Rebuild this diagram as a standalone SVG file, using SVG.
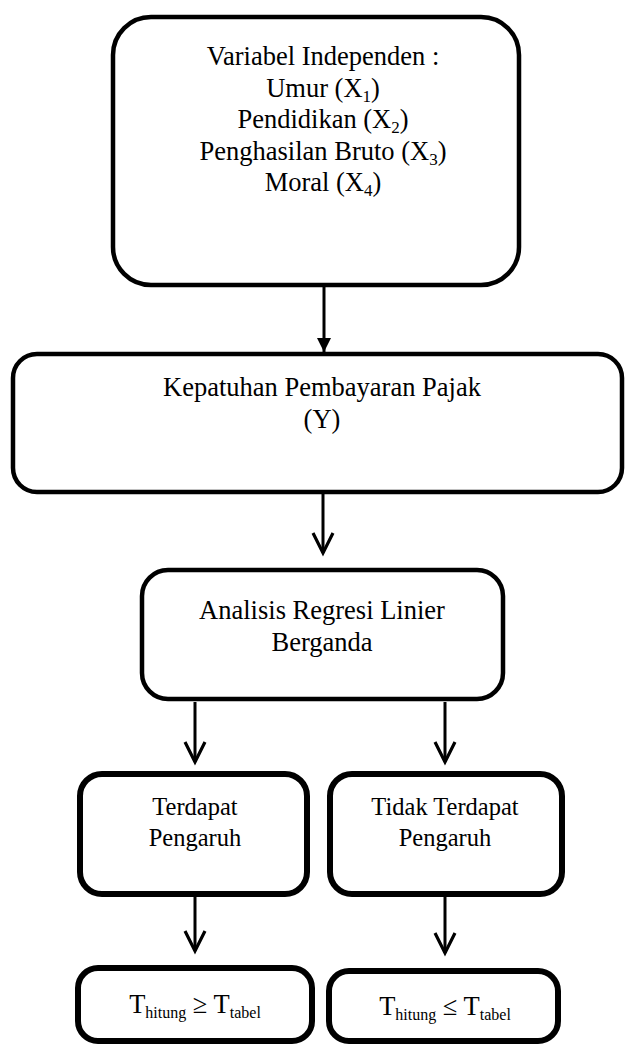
<svg xmlns="http://www.w3.org/2000/svg" width="625" height="1046" viewBox="0 0 625 1046">
  <style>
    .box { fill: #ffffff; stroke: #000000; stroke-width: 4.5; }
    .box2 { fill: #ffffff; stroke: #000000; stroke-width: 6; }
    .t { font-family: "Liberation Serif", "Times New Roman", serif; font-size: 26.5px; fill: #000000; text-anchor: middle; }
    .t2 { font-family: "Liberation Serif", "Times New Roman", serif; font-size: 24.5px; fill: #000000; text-anchor: middle; }
    .sub { font-size: 17px; }
    .sub2 { font-size: 16px; }
    .conn { stroke: #000000; stroke-width: 3; fill: none; }
  </style>
  <defs>
    <marker id="tri" markerUnits="userSpaceOnUse" markerWidth="16" markerHeight="16" viewBox="0 0 16 16" refX="15" refY="8" orient="auto">
      <path d="M1,1 L15,8 L1,15 z" fill="#000000"/>
    </marker>
    <marker id="vee" markerUnits="userSpaceOnUse" markerWidth="26" markerHeight="26" viewBox="0 0 26 26" refX="22" refY="13" orient="auto">
      <path d="M2,3 L22,13 L2,23" fill="none" stroke="#000000" stroke-width="3.2" stroke-linejoin="miter"/>
    </marker>
  </defs>

  <g id="connectors">
    <line class="conn" x1="324" y1="287" x2="324" y2="352" marker-end="url(#tri)"/>
    <line class="conn" x1="323" y1="494" x2="323" y2="553" marker-end="url(#vee)"/>
    <line class="conn" x1="195" y1="702" x2="195" y2="762" marker-end="url(#vee)"/>
    <line class="conn" x1="445" y1="702" x2="445" y2="762" marker-end="url(#vee)"/>
    <line class="conn" x1="195" y1="897" x2="195" y2="951" marker-end="url(#vee)"/>
    <line class="conn" x1="445" y1="897" x2="445" y2="953" marker-end="url(#vee)"/>
  </g>

  <g id="node-variabel">
    <rect class="box" x="113" y="17" width="406" height="268" rx="38" ry="38"/>
    <text class="t" x="323" y="65">Variabel Independen :</text>
    <text class="t" x="323" y="97">Umur (X<tspan class="sub" dy="5">1</tspan><tspan dy="-5">)</tspan></text>
    <text class="t" x="323" y="128">Pendidikan (X<tspan class="sub" dy="5">2</tspan><tspan dy="-5">)</tspan></text>
    <text class="t" x="323" y="160">Penghasilan Bruto (X<tspan class="sub" dy="5">3</tspan><tspan dy="-5">)</tspan></text>
    <text class="t" x="323" y="191">Moral (X<tspan class="sub" dy="5">4</tspan><tspan dy="-5">)</tspan></text>
  </g>

  <g id="node-kepatuhan">
    <rect class="box" x="13" y="354" width="609" height="138" rx="24" ry="24"/>
    <text class="t" x="322" y="396">Kepatuhan Pembayaran Pajak</text>
    <text class="t" x="322" y="428">(Y)</text>
  </g>

  <g id="node-analisis">
    <rect class="box" x="142" y="570" width="361" height="129" rx="26" ry="26"/>
    <text class="t" x="322" y="619">Analisis Regresi Linier</text>
    <text class="t" x="322" y="651">Berganda</text>
  </g>

  <g id="node-terdapat">
    <rect class="box2" x="80" y="774" width="227" height="120" rx="22" ry="22"/>
    <text class="t2" x="195" y="815">Terdapat</text>
    <text class="t2" x="195" y="846">Pengaruh</text>
  </g>

  <g id="node-tidak">
    <rect class="box2" x="330" y="774" width="232" height="120" rx="22" ry="22"/>
    <text class="t2" x="445" y="815">Tidak Terdapat</text>
    <text class="t2" x="445" y="846">Pengaruh</text>
  </g>

  <g id="node-ge">
    <rect class="box2" x="78" y="968" width="234" height="73" rx="20" ry="20"/>
    <text class="t" x="195" y="1013">T<tspan class="sub2" dy="5">hitung</tspan><tspan dy="-5"> ≥ T</tspan><tspan class="sub2" dy="5">tabel</tspan></text>
  </g>

  <g id="node-le">
    <rect class="box2" x="329" y="971" width="229" height="70" rx="20" ry="20"/>
    <text class="t" x="445" y="1015">T<tspan class="sub2" dy="5">hitung</tspan><tspan dy="-5"> ≤ T</tspan><tspan class="sub2" dy="5">tabel</tspan></text>
  </g>
</svg>
